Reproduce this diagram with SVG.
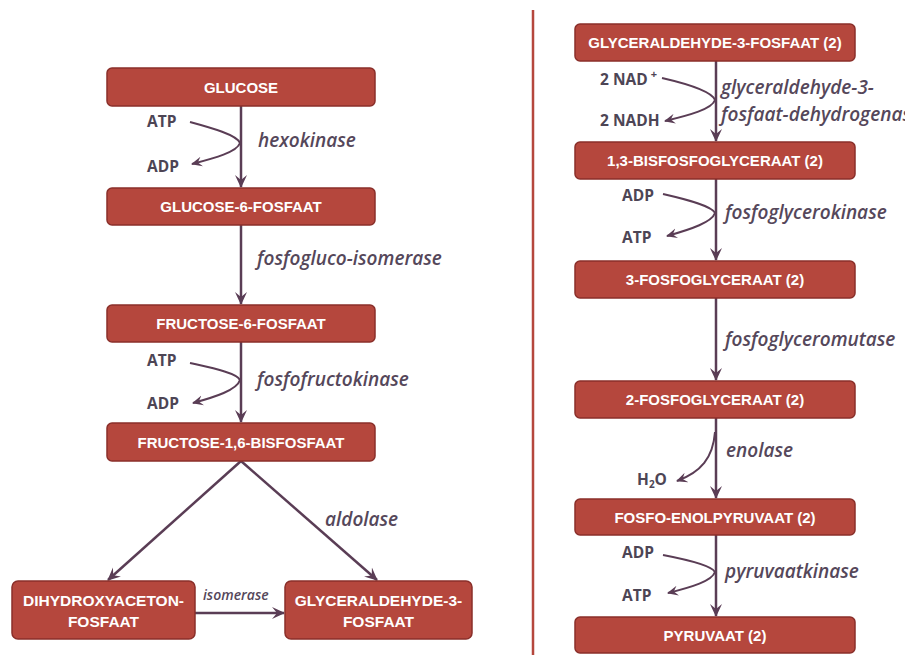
<svg xmlns="http://www.w3.org/2000/svg" width="905" height="660" viewBox="0 0 905 660">
<style>
.box{fill:#b5473d;stroke:#8a2f2a;stroke-width:1.5}
.bt{font-family:"Liberation Sans",Arial,sans-serif;font-weight:bold;font-size:15px;fill:#ffffff;text-anchor:middle}
.bt2{font-family:"Liberation Sans",Arial,sans-serif;font-weight:bold;font-size:15.5px;fill:#ffffff;text-anchor:middle}
.enz{font-family:"Open Sans","DejaVu Sans",sans-serif;font-style:italic;font-weight:600;font-size:19px;fill:#55475a}
.sm{font-family:"Open Sans","Liberation Sans",sans-serif;font-weight:700;font-size:15.5px;fill:#4d4555}
.ln{fill:none;stroke:#5a3d55;stroke-width:2.5}
.cv{fill:none;stroke:#5a3d55;stroke-width:2}
</style>
<defs>
<marker id="ah" markerUnits="userSpaceOnUse" markerWidth="13" markerHeight="13" viewBox="0 0 13 13" refX="12" refY="6.5" orient="auto">
<path d="M0,0.5 L13,6.5 L0,12.5 L5,6.5 z" fill="#5a3d55"/>
</marker>
<marker id="as" markerUnits="userSpaceOnUse" markerWidth="11" markerHeight="11" viewBox="0 0 11 11" refX="10" refY="5.5" orient="auto">
<path d="M0,0.5 L11,5.5 L0,10.5 L4,5.5 z" fill="#5a3d55"/>
</marker>
</defs>
<rect width="905" height="660" fill="#ffffff"/>
<line x1="533" y1="10" x2="533" y2="655" stroke="#b5473d" stroke-width="2.5"/>

<g id="connectors">
<line class="ln" x1="241" y1="106" x2="241" y2="187" marker-end="url(#ah)"/>
<line class="ln" x1="241" y1="225" x2="241" y2="304" marker-end="url(#ah)"/>
<line class="ln" x1="241" y1="342" x2="241" y2="422" marker-end="url(#ah)"/>
<line class="ln" x1="241" y1="461" x2="108" y2="580" marker-end="url(#ah)"/>
<line class="ln" x1="241" y1="461" x2="377" y2="580" marker-end="url(#ah)"/>
<line class="ln" x1="195" y1="613" x2="284" y2="613" marker-end="url(#ah)"/>
<path class="cv" d="M190,122 C212,128 237,135 240,143 C237,152 215,158 192,164" marker-end="url(#as)"/>
<path class="cv" d="M190,363 C212,368 237,373 240,380 C237,390 215,397 193,403" marker-end="url(#as)"/>

<line class="ln" x1="716" y1="61" x2="716" y2="141" marker-end="url(#ah)"/>
<line class="ln" x1="716" y1="179" x2="716" y2="260" marker-end="url(#ah)"/>
<line class="ln" x1="716" y1="298" x2="716" y2="380" marker-end="url(#ah)"/>
<line class="ln" x1="716" y1="418" x2="716" y2="498" marker-end="url(#ah)"/>
<line class="ln" x1="716" y1="535" x2="716" y2="616" marker-end="url(#ah)"/>
<path class="cv" d="M662,78 C688,84 712,92 715,100 C712,109 690,115 665,121" marker-end="url(#as)"/>
<path class="cv" d="M663,194 C689,200 712,206 715,213 C712,222 692,229 667,236" marker-end="url(#as)"/>
<path class="cv" d="M715,432 C713,458 701,472 677,481" marker-end="url(#as)"/>
<path class="cv" d="M663,555 C689,560 712,566 715,572 C712,581 692,587 668,593" marker-end="url(#as)"/>
</g>

<g id="glucose"><rect class="box" x="107" y="68" width="268" height="38" rx="5"/><text class="bt" x="241" y="92.5">GLUCOSE</text></g>
<g id="glucose6p"><rect class="box" x="107" y="188" width="268" height="37" rx="5"/><text class="bt" x="241" y="212">GLUCOSE-6-FOSFAAT</text></g>
<g id="fructose6p"><rect class="box" x="107" y="305" width="268" height="37" rx="5"/><text class="bt" x="241" y="329">FRUCTOSE-6-FOSFAAT</text></g>
<g id="fructose16bp"><rect class="box" x="107" y="423" width="268" height="38" rx="5"/><text class="bt" x="241" y="447.5">FRUCTOSE-1,6-BISFOSFAAT</text></g>
<g id="dhap"><rect class="box" x="12" y="581" width="183" height="58" rx="6"/><text class="bt2" x="103.5" y="606">DIHYDROXYACETON-</text><text class="bt2" x="103.5" y="627">FOSFAAT</text></g>
<g id="g3p"><rect class="box" x="285" y="581" width="187" height="58" rx="6"/><text class="bt2" x="378.5" y="606">GLYCERALDEHYDE-3-</text><text class="bt2" x="378.5" y="627">FOSFAAT</text></g>

<g id="g3p2"><rect class="box" x="575" y="24" width="280" height="37" rx="5"/><text class="bt" x="715" y="48">GLYCERALDEHYDE-3-FOSFAAT (2)</text></g>
<g id="bpg"><rect class="box" x="575" y="142" width="280" height="37" rx="5"/><text class="bt" x="715" y="166">1,3-BISFOSFOGLYCERAAT (2)</text></g>
<g id="pg3"><rect class="box" x="575" y="261" width="280" height="37" rx="5"/><text class="bt" x="715" y="285">3-FOSFOGLYCERAAT (2)</text></g>
<g id="pg2"><rect class="box" x="575" y="381" width="280" height="37" rx="5"/><text class="bt" x="715" y="405">2-FOSFOGLYCERAAT (2)</text></g>
<g id="pep"><rect class="box" x="575" y="499" width="280" height="36" rx="5"/><text class="bt" x="715" y="522.5">FOSFO-ENOLPYRUVAAT (2)</text></g>
<g id="pyruvaat"><rect class="box" x="575" y="617" width="280" height="36" rx="5"/><text class="bt" x="715" y="640.5">PYRUVAAT (2)</text></g>

<g id="labels">
<text class="sm" x="147" y="127">ATP</text>
<text class="sm" x="147" y="172">ADP</text>
<text class="enz" x="258" y="147">hexokinase</text>
<text class="enz" x="257" y="265">fosfogluco-isomerase</text>
<text class="sm" x="147" y="366">ATP</text>
<text class="sm" x="147" y="409">ADP</text>
<text class="enz" x="257" y="386">fosfofructokinase</text>
<text class="enz" x="325" y="526">aldolase</text>
<text x="203" y="600" style="font-family:'Open Sans','DejaVu Sans',sans-serif;font-style:italic;font-weight:600;font-size:14px;fill:#55475a">isomerase</text>

<text class="sm" x="600" y="85">2 NAD<tspan dx="3" dy="-7" font-size="11">+</tspan></text>
<text class="sm" x="600" y="126">2 NADH</text>
<text class="enz" x="721" y="94">glyceraldehyde-3-</text>
<text class="enz" x="721" y="121">fosfaat-dehydrogenase</text>
<text class="sm" x="622" y="201">ADP</text>
<text class="sm" x="622" y="243">ATP</text>
<text class="enz" x="725" y="219">fosfoglycerokinase</text>
<text class="enz" x="725" y="346">fosfoglyceromutase</text>
<text class="enz" x="726" y="457">enolase</text>
<text class="sm" x="637" y="485">H<tspan dy="3" font-size="10">2</tspan><tspan dy="-3">O</tspan></text>
<text class="sm" x="622" y="558">ADP</text>
<text class="sm" x="622" y="601">ATP</text>
<text class="enz" x="725" y="578">pyruvaatkinase</text>
</g>
</svg>
